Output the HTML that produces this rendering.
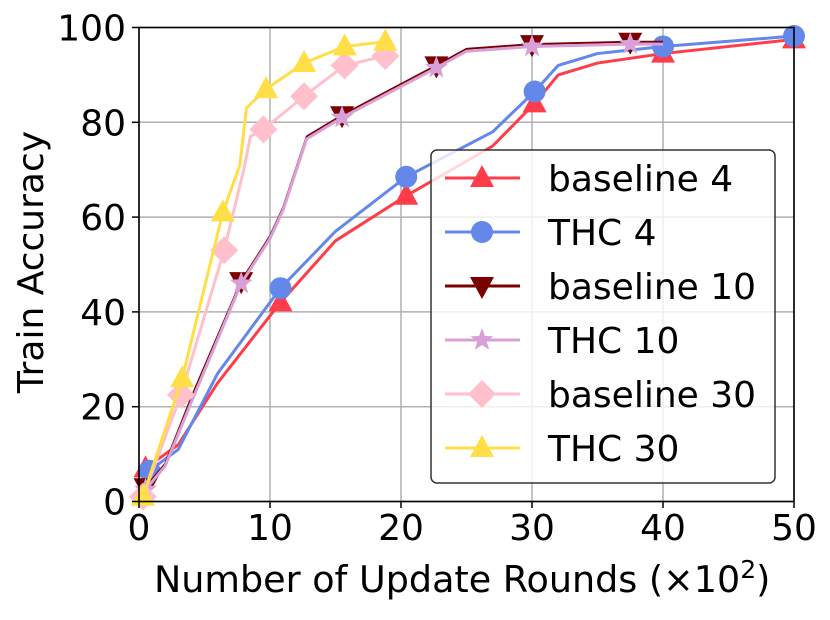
<!DOCTYPE html>
<html><head><meta charset="utf-8"><style>
html,body{margin:0;padding:0;background:#fff;}
svg text{font-family:"DejaVu Sans","Liberation Sans",sans-serif;fill:#000;}
</style></head><body>
<svg id="chart" width="830" height="615" viewBox="0 0 830 615" xmlns="http://www.w3.org/2000/svg">
<g id="grid"></g>
<g id="series"></g>
<rect x="139" y="27.5" width="655" height="474" fill="none" stroke="#000" stroke-width="1.6"/>
<g id="ticks"></g>
<text x="154" y="592" font-size="36.5">Number of Update Rounds (×10<tspan font-size="25" dy="-14">2</tspan><tspan dy="14">)</tspan></text>
<text transform="translate(43,262) rotate(-90)" font-size="36" text-anchor="middle">Train Accuracy</text>
<g id="legend"></g>
</svg>
<script>
const xTicks=[0,10,20,30,40,50];
const yTicks=[0,20,40,60,80,100];
const seriesNames=["baseline 4","THC 4","baseline 10","THC 10","baseline 30","THC 30"];
const b4X=[0.5,1.5,3,6,10.8,15,20.4,27,30.2,32,35,40,50];
const b4Y=[7,9,12,25,42,55,64.5,75,84,90,92.5,94.5,97.5];
const b4M=[0,4,6,8,11,12];
const t4X=[0.8,3,6,10.8,15,20.4,27,30.2,32,35,40,50];
const t4Y=[6.5,11,27,45,57,68.5,78,86.5,92,94.5,96,98.2];
const t4M=[0,3,5,7,10,11];
const b10X=[0.5,2,4,7.8,10,11,12.8,15.5,22.7,25,30,37.5,40];
const b10Y=[3,8,22,46.5,56,62,77,81.5,92,95.5,96.5,97,97];
const b10M=[0,3,7,8,10,11];
const t10X=[0.5,2,4,7.8,10,11,12.8,15.5,22.7,25,30,37.5,40];
const t10Y=[2.5,7.5,21,46,55.5,61.5,76.5,81,91.5,95,96,96.5,96.5];
const t10M=[0,3,7,8,10,11];
const b30X=[0.3,3.2,6.5,8,8.5,9.5,12.6,15.7,18.8];
const b30Y=[1,22.5,53,70,77,78.5,85.5,92,94];
const b30M=[0,1,2,5,6,7,8];
const t30X=[0.3,3.3,6.4,7.7,8.2,9.7,12.6,15.7,18.8];
const t30Y=[1,26,61,71,83,87,92.5,96,97];
const t30M=[0,1,2,5,6,7,8];
const colors=["#ff3d4a","#6488ea","#7b0000","#d8a0d8","#ffc0cb","#ffde46"];
const markers=["tri","circ","vtri","star","diam","tri"];
const widths=[3,3,2,3,3,3];
const X=v=>139+v*13.1, Y=v=>501.5-v*4.74;
const NS="http://www.w3.org/2000/svg";
function mk(t,a,p){const e=document.createElementNS(NS,t);for(const k in a)e.setAttribute(k,a[k]);p.appendChild(e);return e;}
const grid=document.getElementById('grid'), ticks=document.getElementById('ticks');
xTicks.forEach(v=>{
 const g=mk('line',{x1:X(v),x2:X(v),y1:27.5,y2:501.5,stroke:'#b0b0b0','stroke-width':1.5},grid);
 
 
 const tk=mk('line',{x1:X(v),x2:X(v),y1:501.5,y2:508,stroke:'#000','stroke-width':1.5},ticks);
 
 
 const t=mk('text',{x:X(v),y:540,'font-size':36,'text-anchor':'middle'},ticks);t.textContent=v;
 
 
});
yTicks.forEach(v=>{
 const g=mk('line',{x1:139,x2:794,y1:Y(v),y2:Y(v),stroke:'#b0b0b0','stroke-width':1.5},grid);
 
 
 const tk=mk('line',{x1:132,x2:139,y1:Y(v),y2:Y(v),stroke:'#000','stroke-width':1.5},ticks);
 
 
 const t=mk('text',{x:126,y:Y(v)+13,'font-size':36,'text-anchor':'end'},ticks);t.textContent=v;
 
 
});
function marker(type,x,y,c,p){
 let e;
 if(type==='tri') e=mk('polygon',{points:`${x},${y-13} ${x-12},${y+9} ${x+12},${y+9}`,fill:c},p);
 else if(type==='vtri') e=mk('polygon',{points:`${x},${y+13} ${x-12},${y-9} ${x+12},${y-9}`,fill:c},p);
 else if(type==='circ') e=mk('circle',{cx:x,cy:y,r:11,fill:c},p);
 else if(type==='diam') e=mk('polygon',{points:`${x},${y-14} ${x+14},${y} ${x},${y+14} ${x-14},${y}`,fill:c},p);
 else {let pts=[];for(let i=0;i<10;i++){const r=i%2?5:12,a=-Math.PI/2+i*Math.PI/5;pts.push((x+r*Math.cos(a)).toFixed(1)+','+(y+r*Math.sin(a)).toFixed(1));}
  e=mk('polygon',{points:pts.join(' '),fill:c},p);}
 return e;
}
const sx=[b4X,t4X,b10X,t10X,b30X,t30X], sy=[b4Y,t4Y,b10Y,t10Y,b30Y,t30Y], sm=[b4M,t4M,b10M,t10M,b30M,t30M];
const ser=document.getElementById('series');
sx.forEach((xs,i)=>{
 const g=mk('g',{},ser);
 
 
 const l=mk('polyline',{points:xs.map((x,j)=>X(x)+','+Y(sy[i][j])).join(' '),fill:'none',stroke:colors[i],'stroke-width':widths[i],'stroke-linejoin':'round'},g);
 
 
 sm[i].forEach(j=>{const m=marker(markers[i],X(xs[j]),Y(sy[i][j]),colors[i],g);
  
  });
});
const lg=document.getElementById('legend');
const box=mk('rect',{x:431,y:150,width:344,height:333,rx:6,fill:'rgba(255,255,255,0.8)',stroke:'#333','stroke-width':1.5},lg);


seriesNames.forEach((n,i)=>{
 const y=178+i*54;
 const g=mk('g',{},lg);
 
 
 mk('line',{x1:445,x2:520,y1:y,y2:y,stroke:colors[i],'stroke-width':3},g);
 marker(markers[i],482,y,colors[i],g);
 const t=mk('text',{x:548,y:y+13,'font-size':36},g);t.textContent=n;
});
</script>
</body></html>
